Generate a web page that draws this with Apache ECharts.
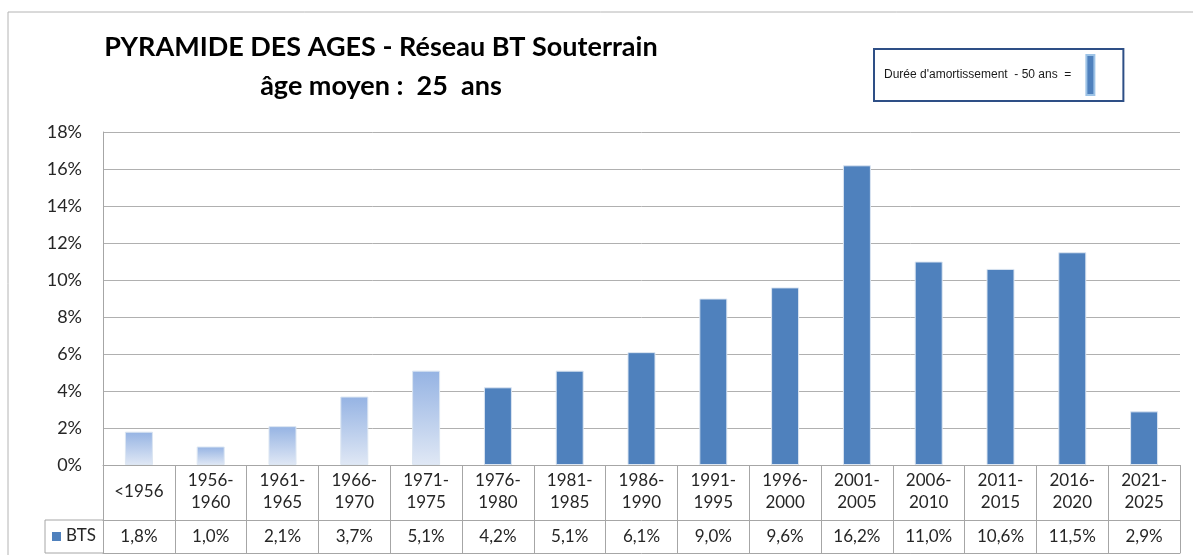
<!DOCTYPE html>
<html>
<head>
<meta charset="utf-8">
<script src="https://cdn.jsdelivr.net/npm/echarts@6/dist/echarts.min.js"></script>
<style>
  html, body { margin: 0; padding: 0; background: #fff; }
  #chart { width: 1193px; height: 555px; }
</style>
</head>
<body>
<div id="chart"></div>
<script>
// --- data ---------------------------------------------------------------
const categories = ['<1956', '1956-1960', '1961-1965', '1966-1970', '1971-1975',
  '1976-1980', '1981-1985', '1986-1990', '1991-1995', '1996-2000',
  '2001-2005', '2006-2010', '2011-2015', '2016-2020', '2021-2025'];
const bts = [1.8, 1.0, 2.1, 3.7, 5.1, 4.2, 5.1, 6.1, 9.0, 9.6, 16.2, 11.0, 10.6, 11.5, 2.9];
const fadedCount = 5; // older than the 50-year depreciation period
const yTicks = { min: 0, max: 18, interval: 2 };
const seriesName = 'BTS';
const legendName = "Durée d'amortissement  - 50 ans  =   ";

// --- style ----------------------------------------------------------------
const BLUE = '#4f81bd';
const RULE = '#a6a6a6';
const INK = '#262626';
const FONT = 'Lato, "Liberation Sans", sans-serif';

const fmtPct = (v) => v.toFixed(1).replace('.', ',') + '%';
const catLabel = (s) => s.includes('-') ? s.replace('-', '-\n') : s;

const faded = new echarts.graphic.LinearGradient(0, 0, 0, 1, [
  { offset: 0, color: '#95b3e3' },
  { offset: 1, color: '#e0e8f5' }
]);

const barData = bts.map((v, i) => i < fadedCount
  ? { value: v, itemStyle: { color: faded } }
  : v);

const chart = echarts.init(document.getElementById('chart'), null, { renderer: 'canvas' });

chart.setOption({
  animation: false,
  textStyle: { fontFamily: FONT },
  title: {
    text: 'PYRAMIDE DES AGES - Réseau BT Souterrain\nâge moyen :  25  ans',
    left: 376,
    top: 23,
    textAlign: 'center',
    textStyle: { fontFamily: FONT, fontSize: 27, fontWeight: 'bold', color: '#000', lineHeight: 39 }
  },
  legend: {
    data: [legendName],
    left: 874,
    top: 49,
    orient: 'horizontal',
    align: 'right',
    icon: 'rect',
    itemWidth: 8,
    itemHeight: 40,
    padding: [5, 28, 5, 10],
    borderColor: '#2e4f86',
    borderWidth: 2,
    textStyle: { fontFamily: '"Liberation Sans Narrow", "Liberation Sans", sans-serif', fontSize: 12, color: '#1a1a1a' },
    selectedMode: false
  },
  grid: { left: 103, right: 13, top: 132, bottom: 90, containLabel: false },
  yAxis: {
    type: 'value',
    min: yTicks.min,
    max: yTicks.max,
    interval: yTicks.interval,
    axisLine: { show: true, lineStyle: { color: RULE } },
    axisTick: { show: false },
    axisLabel: { formatter: '{value}%', fontSize: 18, color: INK, margin: 21 },
    splitLine: { lineStyle: { color: '#b0b0b0', width: 1 } }
  },
  xAxis: [
    {
      type: 'category',
      data: categories,
      position: 'bottom',
      axisLine: { lineStyle: { color: RULE } },
      axisTick: { show: true, interval: 0, length: 88, lineStyle: { color: RULE } },
      axisLabel: {
        interval: 0, margin: 27, verticalAlign: 'middle', lineHeight: 22,
        fontSize: 17, color: INK, formatter: catLabel
      }
    },
    {
      type: 'category',
      data: bts.map(fmtPct),
      position: 'bottom',
      offset: 55,
      axisLine: { lineStyle: { color: RULE } },
      axisTick: { show: false },
      axisLabel: { interval: 0, margin: 17, verticalAlign: 'middle', fontSize: 17, color: INK }
    },
    {
      type: 'category',
      data: categories,
      position: 'bottom',
      offset: 88,
      axisLine: { lineStyle: { color: RULE } },
      axisTick: { show: false },
      axisLabel: { show: false }
    }
  ],
  series: [
    {
      name: seriesName,
      type: 'bar',
      xAxisIndex: 0,
      barWidth: '39%',
      data: barData,
      itemStyle: { color: BLUE, borderColor: '#dce6f2', borderWidth: 1 }
    },
    {
      name: legendName,
      type: 'line',
      xAxisIndex: 0,
      data: [],
      color: BLUE,
      itemStyle: { color: BLUE, borderColor: '#9dc3e6', borderWidth: 1 }
    }
  ],
  graphic: [
    // sheet frame
    { type: 'polyline', shape: { points: [[8, 555], [8, 12], [1193, 12]] },
      style: { stroke: '#b4b4b4', lineWidth: 1, fill: null }, silent: true },
    // BTS header cell of the data table
    { type: 'polyline', shape: { points: [[103, 520], [45, 520], [45, 553], [103, 553]] },
      style: { stroke: RULE, lineWidth: 1, fill: null }, silent: true },
    { type: 'rect', shape: { x: 52, y: 532, width: 9, height: 9 },
      style: { fill: BLUE }, silent: true },
    { type: 'text', left: 66, top: 527,
      style: { text: seriesName, font: '17px ' + FONT, fill: INK }, silent: true }
  ]
});
</script>
</body>
</html>
